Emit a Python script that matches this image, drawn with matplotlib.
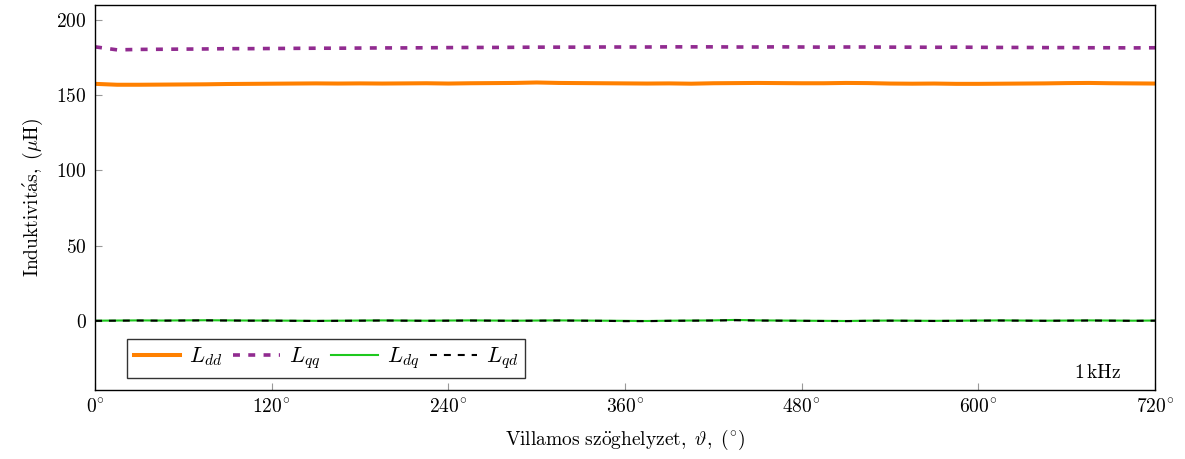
import numpy as np
import matplotlib
matplotlib.use("Agg")
import matplotlib.pyplot as plt

plt.rcParams['font.family'] = ['cmr10', 'DejaVu Serif']
plt.rcParams['mathtext.fontset'] = 'cm'
plt.rcParams['axes.formatter.use_mathtext'] = True
plt.rcParams['lines.scale_dashes'] = False

# electrical angle, degrees (every 15 deg)
theta = list(range(0, 721, 15))

L_dd = [157.6, 157.0, 157.0, 157.1, 157.2, 157.3, 157.5, 157.6, 157.7, 157.8,
        157.9, 157.8, 157.9, 157.8, 157.9, 158.0, 157.8, 158.0, 158.1, 158.2,
        158.5, 158.2, 158.1, 158.0, 157.9, 157.8, 157.9, 157.7, 158.0, 158.1,
        158.2, 158.1, 158.0, 158.0, 158.2, 158.1, 157.8, 157.7, 157.8, 157.6,
        157.6, 157.7, 157.8, 157.9, 158.1, 158.2, 158.0, 157.9, 157.8]
L_qq = [182.2, 180.2, 180.5, 180.6, 180.7, 180.8, 181.0, 181.0, 181.1, 181.2,
        181.3, 181.3, 181.4, 181.5, 181.5, 181.6, 181.7, 181.8, 181.8, 181.9,
        182.0, 182.0, 182.0, 182.1, 182.1, 182.1, 182.2, 182.2, 182.2, 182.1,
        182.1, 182.2, 182.1, 182.0, 182.1, 182.1, 182.0, 182.0, 181.9, 182.0,
        181.9, 181.8, 181.8, 181.7, 181.7, 181.6, 181.6, 181.5, 181.6]
L_dq = [0.1, 0.2, 0.3, 0.2, 0.3, 0.4, 0.3, 0.2, 0.2, 0.1,
        0.0, 0.1, 0.2, 0.3, 0.2, 0.1, 0.2, 0.3, 0.2, 0.1,
        0.2, 0.3, 0.2, 0.1, 0.0, -0.1, 0.1, 0.2, 0.3, 0.6,
        0.3, 0.2, 0.1, 0.0, -0.1, 0.1, 0.2, 0.1, 0.0, 0.1,
        0.2, 0.3, 0.2, 0.1, 0.2, 0.3, 0.2, 0.1, 0.2]
L_qd = [0.0, 0.1, 0.2, 0.1, 0.2, 0.3, 0.2, 0.1, 0.1, 0.0,
        -0.1, 0.0, 0.1, 0.2, 0.1, 0.0, 0.1, 0.2, 0.1, 0.0,
        0.1, 0.2, 0.1, 0.0, -0.2, -0.2, 0.0, 0.1, 0.2, 0.4,
        0.2, 0.1, 0.0, -0.1, -0.2, 0.0, 0.1, 0.0, -0.1, 0.0,
        0.1, 0.2, 0.1, 0.0, 0.1, 0.2, 0.1, 0.0, 0.1]

x_ticks = [0, 120, 240, 360, 480, 600, 720]
y_ticks = [0, 50, 100, 150, 200]

fig = plt.figure(figsize=(11.85, 4.59), dpi=100)
ax = fig.add_axes([0.0802, 0.1503, 0.8945, 0.8387])

ax.plot(theta, L_dd, color='#ff8000', lw=2.9, label=r'$L_{dd}$')
ax.plot(theta, L_qq, color='#912b90', lw=2.6, linestyle=(0, (5, 6)), label=r'$L_{qq}$')
ax.plot(theta, L_dq, color='#1ec81e', lw=1.5, label=r'$L_{dq}$')
ax.plot(theta, L_qd, color='black', lw=1.5, linestyle=(0, (5, 5)), label=r'$L_{qd}$')

ax.set_xlim(0, 720)
ax.set_ylim(-46, 210)
ax.set_xticks(x_ticks)
ax.set_xticklabels([r'$%d^{\!\circ}$' % t for t in x_ticks])
ax.set_yticks(y_ticks)
ax.set_yticklabels([r'$%d$' % t for t in y_ticks])
ax.tick_params(direction='in', length=5, color='#999999', labelsize=14, pad=6)
for s in ax.spines.values():
    s.set_linewidth(1.0)

ax.set_xlabel(r'$\mathrm{Villamos\ sz\ddot{o}ghelyzet,}\ \vartheta,\ \mathrm{(}{}^{\!\circ}\!\mathrm{)}$',
              fontsize=14, labelpad=8)
ax.set_ylabel(r"$\mathrm{Induktivit\acute{a}s,\ (\mu H)}$", fontsize=14, labelpad=8)

leg = ax.legend(loc='lower left', ncol=4, fontsize=16, frameon=True, fancybox=False,
                edgecolor='black', handlelength=2.1, handletextpad=0.4, columnspacing=0.5,
                borderpad=0.3, borderaxespad=0, bbox_to_anchor=(0.030, 0.031))
leg.get_frame().set_linewidth(1.0)

ax.text(0.968, 0.022, r'$1\,\mathrm{kHz}$', transform=ax.transAxes, ha='right', va='bottom', fontsize=14)

fig.savefig('out.png', dpi=100)
